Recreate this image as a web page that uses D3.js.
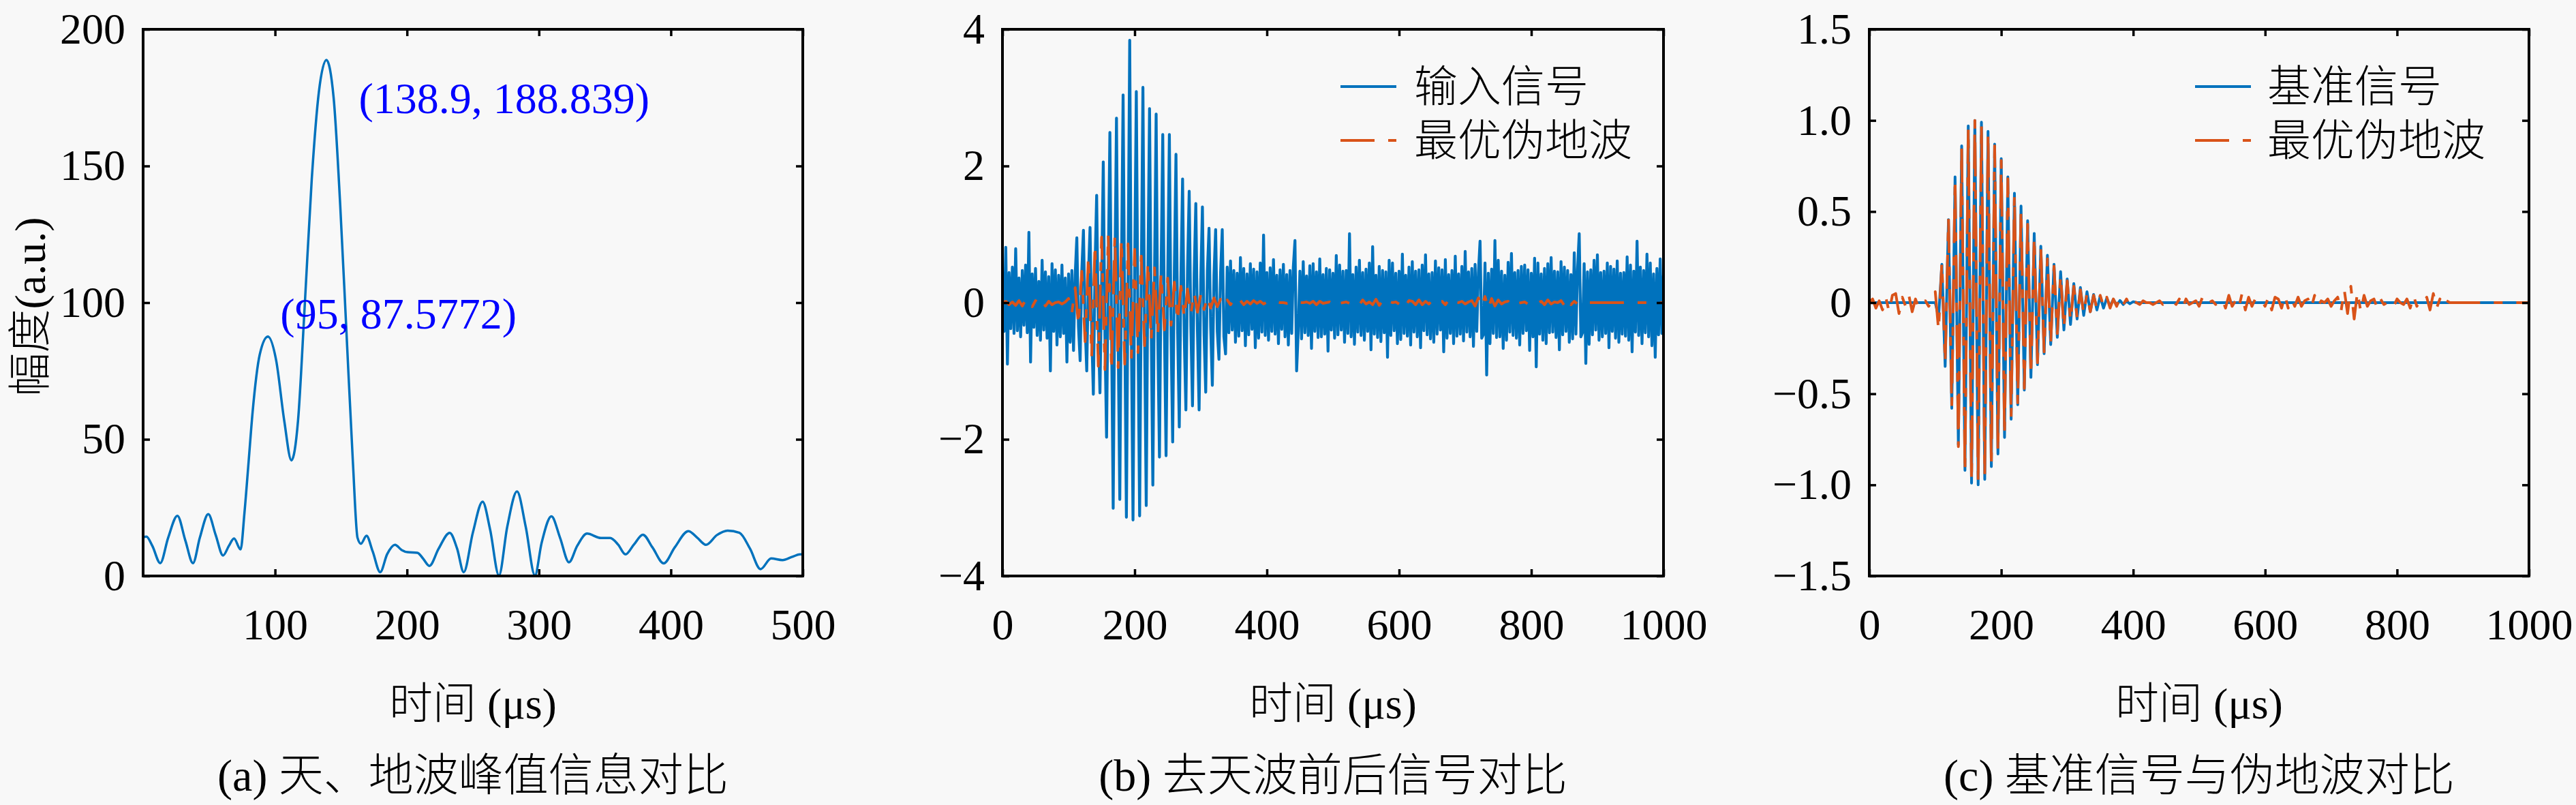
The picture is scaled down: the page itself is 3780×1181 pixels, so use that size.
<!DOCTYPE html>
<html>
<head>
<meta charset="utf-8">
<script src="https://cdn.jsdelivr.net/npm/d3@7"></script>
<style>
  body { margin: 0; background: #f8f8f8; }
  svg text { font-family: "Liberation Serif", "Noto Sans CJK SC", serif; fill: #000; }
  .cjk { font-weight: 300; }
</style>
</head>
<body>
<svg id="chart" width="3780" height="1181"></svg>
<script>
// ---- data ----

// (a) peak search curve
const spectrumTime = [0, 2.5, 7, 13, 19, 26, 32, 37.8, 43, 49.4, 55, 60.6, 65, 68.9, 73.9, 76.8, 80, 83, 88.4, 94.6,
  100.8, 107, 112.4, 117.4, 122.4, 127.8, 133.2, 138.9, 144.4, 149.4, 154, 159, 162.5, 165.1, 169.3, 174, 179.7, 185,
  190.9, 196, 200.4, 207.9, 212, 217, 224, 232.4, 238, 243, 250, 257.3, 263, 269.7, 276, 283.4, 290, 297, 302, 309.5,
  316, 322.8, 329, 336.5, 347, 354, 360, 365.6, 372, 378.8, 386, 394.6, 403, 413.3, 420, 426.6, 435, 443, 452, 460,
  468, 476, 484.6, 492, 497.9, 500];
const spectrumAmp = [14.1, 14.4, 11, 4.7, 14, 22, 13, 4.7, 14, 22.6, 15, 7.5, 11, 13.7, 9.7, 23, 42, 60, 81, 87.6,
  79, 56.7, 42.3, 56.7, 98, 145, 177, 188.8, 175, 135.6, 90.5, 41.7, 14, 11.8, 14.7, 9, 1.4, 8,
  11.4, 9.5, 8.7, 8.5, 6.5, 3.7, 10, 15.8, 10, 1.4, 16, 27.2, 17, 0.2, 18, 30.9, 18, 0.2, 12, 21.8,
  14, 5.0, 11, 15.5, 13.9, 13.9, 11.5, 7.9, 11.5, 15.1, 10.5, 4.6, 10.5, 16.4, 14, 11.4, 15, 16.6, 15.8, 10,
  2.5, 6.4, 5.8, 7, 7.9, 7.9];
const peakLabels = ["(138.9, 188.839)", "(95, 87.5772)"];

// (b) input signal, one sample every 2.5 us from 0 to 1000 us
const inputDt = 2.5;
const inputSignal = [
  0.35, -0.42, 0.81, -0.9,   0.44, -0.38, 0.52, -0.45,  0.79, -0.41, 0.36, -0.5,   0.47, -0.33, 0.55, -0.44,
  1.03, -0.87, 0.42, -0.36,  0.5, -0.48, 0.31, -0.55,   0.62, -0.4, 0.45, -0.52,   0.38, -1.0, 0.57, -0.42,
  0.48, -0.62, 0.4, -0.5,    0.55, -0.45, 0.36, -0.87,  0.42, -0.58, 0.47, -0.7,
  // 110 .. 330 us: sky wave burst
  0.4, 0.95, -0.35, -0.85,   0.45, 1.06, -0.3, -1.0,    0.38, 1.1, -0.42, -1.34,   0.5, 1.57, -0.36, -1.32,
  0.31, 2.06, -0.48, -1.97,  0.44, 2.49, -0.4, -3.01,   0.36, 2.7, -0.5, -2.88,    0.47, 3.04, -0.33, -3.14,
  0.4, 3.84, -0.45, -3.18,   0.52, 3.09, -0.38, -3.12,  0.35, 3.15, -0.46, -2.97,  0.43, 2.84, -0.31, -2.67,
  0.39, 2.76, -0.5, -2.26,   0.48, 2.46, -0.37, -2.24,  0.34, 2.46, -0.44, -2.04,  0.45, 2.17, -0.4, -1.82,
  0.37, 1.81, -0.49, -1.57,  0.5, 1.63, -0.35, -1.51,   0.41, 1.45, -0.43, -1.57,  0.33, 1.4, -0.47, -1.31,
  0.46, 1.09, -0.36, -1.21,  0.4, 1.07, -0.42, -0.83,   0.44, 1.07, -0.5, -0.75,
  // 340 .. 1000 us
  0.52, -0.44, 0.61, -0.4,   0.47, -0.58, 0.43, -0.49,  0.66, -0.41, 0.5, -0.63,   0.42, -0.47, 0.57, -0.39,
  0.49, -0.66, 0.45, -0.52,  0.58, -0.43, 0.99, -0.48,  0.44, -0.55, 0.51, -0.42,  0.63, -0.46, 0.4, -0.6,
  0.48, -0.39, 0.56, -0.5,   0.41, -0.62, 0.47, -0.45,  0.52, 0.91, -1.0, -0.41,   0.46, -0.53, 0.6, -0.44,
  0.39, -0.48, 0.54, -0.67,  0.57, -0.42, 0.45, -0.51,  0.64, -0.5, 0.41, -0.46,   0.5, -0.71, 0.48, -0.4,
  0.43, -0.52, 0.69, -0.47,  0.55, -0.4, 0.46, -0.58,   0.47, -0.45, 1.01, -0.5,   0.41, -0.61, 0.52, -0.43,
  0.62, -0.48, 0.44, -0.55,  0.49, -0.42, 0.58, -0.69,  0.82, -0.46, 0.4, -0.51,   0.53, -0.57, 0.47, -0.44,
  0.45, -0.8, 0.62, -0.48,   0.58, -0.41, 0.43, -0.6,   0.46, -0.54, 0.71, -0.45,  0.4, -0.49, 0.52, -0.62,
  0.6, -0.43, 0.46, -0.5,    0.48, -0.66, 0.55, -0.41,  0.7, -0.47, 0.42, -0.53,   0.44, -0.58, 0.61, -0.46,
  0.51, -0.4, 0.48, -0.72,   0.63, -0.52, 0.41, -0.45,  0.47, -0.6, 0.68, -0.49,   0.42, -0.46, 0.53, -0.56,
  0.75, -0.43, 0.45, -0.5,   0.5, -0.64, 0.56, -0.42,   0.44, 0.9, -0.52, -0.47,   0.58, -1.06, 0.43, -0.6,
  0.49, -0.45, 0.91, -0.51,  0.62, -0.5, 0.46, -0.67,   0.4, -0.55, 0.59, -0.43,   0.72, -0.48, 0.44, -0.52,
  0.47, -0.62, 0.53, -0.45,  0.55, -0.41, 0.48, -0.7,   0.43, -0.5, 0.65, -0.94,   0.58, -0.46, 0.42, -0.55,
  0.5, -0.6, 0.57, -0.44,    0.66, -0.43, 0.46, -0.51,  0.45, -0.69, 0.6, -0.47,   0.52, -0.42, 0.47, -0.58,
  0.41, -0.53, 0.73, -0.46,  0.49, 1.01, -0.5, -0.44,   0.57, -0.89, 0.45, -0.61,  0.48, -0.47, 0.62, -0.4,
  0.7, -0.55, 0.44, -0.5,    0.46, -0.45, 0.58, -0.66,  0.53, -0.42, 0.49, -0.52,  0.61, -0.58, 0.43, -0.46,
  0.44, -0.49, 0.67, -0.55,  0.55, -0.72, 0.46, -0.43,  0.9, -0.48, 0.52, -0.6,    0.47, -0.44, 0.71, -0.5,
  0.58, -0.63, 0.42, -0.8,   0.5, -0.47, 0.64, -0.45,
  0.4
];

// (b)/(c) best pseudo ground wave and (c) reference, one sample every 5 us
const waveDt = 5;
const pseudoGround = [
  0, 0.02, -0.03, 0.01, -0.04, 0.03, -0.05, 0.04, 0.05, -0.06,
  0.03, -0.02, 0.04, -0.05, 0.02, -0.03, 0, 0.01, -0.02, 0.01,
  0.06, -0.15, 0.22, -0.33, 0.46, -0.57, 0.68, -0.79, 0.85, -0.93,
  0.96, -0.98, 1.0, -0.99, 0.98, -0.95, 0.93, -0.9, 0.86, -0.82,
  0.78, -0.73, 0.68, -0.63, 0.59, -0.55, 0.51, -0.47, 0.43, -0.4,
  0.36, -0.33, 0.3, -0.27, 0.24, -0.22, 0.2, -0.17, 0.15, -0.14,
  0.12, -0.1, 0.09, -0.08, 0.07, -0.06, 0.05, -0.05, 0.04, -0.03,
  0.04, -0.02, 0.03, -0.03, 0.02, -0.02, 0.03, -0.01, 0.02, -0.02,
  0.01, 0, -0.01, 0.01, 0, 0, -0.01, 0, 0.01, -0.01,
  0, 0, 0.01, -0.01, 0.02, -0.03, 0.02, -0.01, 0, 0.01,
  -0.02, 0.03, -0.01, 0, 0.01, -0.01, 0, 0.02, -0.03, 0.04,
  -0.02, 0.01, -0.03, 0.05, -0.04, 0.03, -0.02, 0.02, 0, 0.01,
  -0.02, 0.03, -0.04, 0.03, 0.02, -0.03, 0.04, -0.03, 0.02, -0.02,
  0.03, -0.02, 0.01, 0.02, -0.03, 0.04, -0.02, 0.01, 0, 0.02,
  -0.02, 0.01, 0.03, -0.05, 0.07, -0.06, 0.09, -0.09, 0.06, -0.05,
  0.04, -0.02, 0.01, 0.02, -0.03, 0.02, -0.01, 0, 0.01, -0.02,
  0.02, 0, -0.01, 0.02, -0.03, 0.04, -0.02, 0.01, 0, 0.03,
  -0.04, 0.05, -0.03, 0.02, -0.02, 0.01, 0, 0, 0, 0,
  0, 0, 0, 0, 0, 0, 0, 0, 0, 0,
  0, 0, 0, 0, 0, 0, 0, 0, 0, 0,
  0
];
const referenceSignal = [
  0, 0, 0, 0, 0, 0, 0, 0, 0, 0,
  0, 0, 0, 0, 0, 0, 0, 0, 0, 0,
  0, -0.08, 0.21, -0.35, 0.455, -0.58, 0.69, -0.78, 0.86, -0.92,
  0.97, -0.99, 1.0, -1.0, 0.99, -0.97, 0.94, -0.9, 0.87, -0.83,
  0.79, -0.74, 0.69, -0.64, 0.6, -0.56, 0.53, -0.48, 0.45, -0.41,
  0.38, -0.34, 0.31, -0.28, 0.26, -0.23, 0.21, -0.19, 0.17, -0.15,
  0.13, -0.12, 0.105, -0.09, 0.083, -0.07, 0.06, -0.05, 0.045, -0.04,
  0.035, -0.03, 0.025, -0.02, 0.018, -0.015, 0.012, -0.01, 0.008, -0.006,
  0.005, 0, 0, 0, 0, 0, 0, 0, 0, 0,
  0, 0, 0, 0, 0, 0, 0, 0, 0, 0,
  0, 0, 0, 0, 0, 0, 0, 0, 0, 0,
  0, 0, 0, 0, 0, 0, 0, 0, 0, 0,
  0, 0, 0, 0, 0, 0, 0, 0, 0, 0,
  0, 0, 0, 0, 0, 0, 0, 0, 0, 0,
  0, 0, 0, 0, 0, 0, 0, 0, 0, 0,
  0, 0, 0, 0, 0, 0, 0, 0, 0, 0,
  0, 0, 0, 0, 0, 0, 0, 0, 0, 0,
  0, 0, 0, 0, 0, 0, 0, 0, 0, 0,
  0, 0, 0, 0, 0, 0, 0, 0, 0, 0,
  0, 0, 0, 0, 0, 0, 0, 0, 0, 0,
  0
];

// ticks and texts
const xTicksA = [100, 200, 300, 400, 500];
const yTicksA = [0, 50, 100, 150, 200];
const xTicksBC = [0, 200, 400, 600, 800, 1000];
const yTicksB = [-4, -2, 0, 2, 4];
const yTicksC = [-1.5, -1, -0.5, 0, 0.5, 1, 1.5];
const captions = ["(a) 天、地波峰值信息对比", "(b) 去天波前后信号对比", "(c) 基准信号与伪地波对比"];
const legendB = ["输入信号", "最优伪地波"];
const legendC = ["基准信号", "最优伪地波"];
const xLabel = "时间 (μs)";
const yLabelA = "幅度(a.u.)";

// ---- drawing ----
const BLUE = "#0072BD", RED = "#D95319", ANNOT = "#0000FF";
const DASHDOT = "50,20,13,20";
const plotTop = 43, plotBottom = 845;
const svg = d3.select("#chart");
svg.append("rect").attr("width", 3780).attr("height", 1181).attr("fill", "#f8f8f8");

const minus = v => (v < 0 ? "\u2212" : "") + Math.abs(v);
const toPoints = (vals, dt) => vals.map((v, i) => [i * dt, v]);

const panels = [
  {
    left: 210, right: 1178, xDomain: [0, 500], yDomain: [0, 200],
    xTicks: xTicksA, yTicks: yTicksA, yFormat: d => d,
    series: [{ pts: spectrumTime.map((t, i) => [t, spectrumAmp[i]]), color: BLUE, width: 3.5, curve: d3.curveMonotoneX }],
    caption: captions[0]
  },
  {
    left: 1471, right: 2441, xDomain: [0, 1000], yDomain: [-4, 4],
    xTicks: xTicksBC, yTicks: yTicksB, yFormat: minus,
    series: [
      { pts: toPoints(inputSignal, inputDt), color: BLUE, width: 4.2 },
      { pts: toPoints(pseudoGround, waveDt), color: RED, width: 4, dash: DASHDOT }
    ],
    legend: legendB, legendLine: 1967, legendText: 2075,
    caption: captions[1]
  },
  {
    left: 2743, right: 3711, xDomain: [0, 1000], yDomain: [-1.5, 1.5],
    xTicks: xTicksBC, yTicks: yTicksC, yFormat: d => d === 0 ? "0" : (d < 0 ? "\u2212" : "") + Math.abs(d).toFixed(1),
    series: [
      { pts: toPoints(referenceSignal, waveDt), color: BLUE, width: 4 },
      { pts: toPoints(pseudoGround, waveDt), color: RED, width: 4, dash: DASHDOT }
    ],
    legend: legendC, legendLine: 3221, legendText: 3327,
    caption: captions[2]
  }
];

panels.forEach((p, pi) => {
  const x = d3.scaleLinear().domain(p.xDomain).range([p.left, p.right]);
  const y = d3.scaleLinear().domain(p.yDomain).range([plotBottom, plotTop]);
  const g = svg.append("g");

  // clip region for the traces
  const clipId = "clip" + pi;
  svg.append("clipPath").attr("id", clipId).append("rect")
    .attr("x", p.left).attr("y", plotTop)
    .attr("width", p.right - p.left).attr("height", plotBottom - plotTop);

  const traces = g.append("g").attr("clip-path", "url(#" + clipId + ")");
  p.series.forEach(s => {
    const line = d3.line().x(d => x(d[0])).y(d => y(d[1]));
    if (s.curve) line.curve(s.curve);
    traces.append("path")
      .datum(s.pts)
      .attr("d", line)
      .attr("fill", "none")
      .attr("stroke", s.color)
      .attr("stroke-width", s.width)
      .attr("stroke-linejoin", "round")
      .attr("stroke-dasharray", s.dash || null);
  });

  // axes, ticks pointing inward on all four sides
  const axisStyle = sel => {
    sel.select(".domain").remove();
    sel.selectAll(".tick line").attr("stroke", "#000").attr("stroke-width", 3.5);
    sel.selectAll(".tick text").attr("font-size", 64).attr("fill", "#000");
  };
  g.append("g").attr("transform", `translate(0,${plotBottom})`)
    .call(d3.axisBottom(x).tickValues(p.xTicks).tickSize(-10).tickPadding(48).tickFormat(d => d))
    .call(axisStyle);
  g.append("g").attr("transform", `translate(0,${plotTop})`)
    .call(d3.axisTop(x).tickValues(p.xTicks).tickSize(-10).tickFormat(""))
    .call(axisStyle);
  g.append("g").attr("transform", `translate(${p.left},0)`)
    .call(d3.axisLeft(y).tickValues(p.yTicks).tickSize(-10).tickPadding(26).tickFormat(p.yFormat))
    .call(axisStyle);
  g.append("g").attr("transform", `translate(${p.right},0)`)
    .call(d3.axisRight(y).tickValues(p.yTicks).tickSize(-10).tickFormat(""))
    .call(axisStyle);
  g.selectAll("text").attr("font-family", null);

  g.append("rect")
    .attr("x", p.left).attr("y", plotTop)
    .attr("width", p.right - p.left).attr("height", plotBottom - plotTop)
    .attr("fill", "none").attr("stroke", "#000").attr("stroke-width", 4);

  // legend
  if (p.legend) {
    const rows = [127, 206];
    p.series.forEach((s, i) => {
      g.append("line")
        .attr("x1", p.legendLine).attr("x2", p.legendLine + 82)
        .attr("y1", rows[i]).attr("y2", rows[i])
        .attr("stroke", s.color).attr("stroke-width", 4)
        .attr("stroke-dasharray", s.dash || null);
      g.append("text").attr("class", "cjk")
        .attr("x", p.legendText).attr("y", rows[i])
        .attr("dominant-baseline", "central")
        .attr("font-size", 64)
        .text(p.legend[i]);
    });
  }

  // axis label and caption
  const cx = (p.left + p.right) / 2;
  g.append("text").attr("class", "cjk")
    .attr("x", cx).attr("y", 1032)
    .attr("text-anchor", "middle").attr("dominant-baseline", "central")
    .attr("font-size", 64)
    .text(xLabel);
  g.append("text").attr("class", "cjk")
    .attr("x", cx).attr("y", 1137)
    .attr("text-anchor", "middle").attr("dominant-baseline", "central")
    .attr("font-size", 66)
    .text(p.caption);

  if (pi === 0) {
    g.append("text").attr("class", "cjk")
      .attr("transform", `translate(44,450) rotate(-90)`)
      .attr("text-anchor", "middle").attr("dominant-baseline", "central")
      .attr("font-size", 64)
      .text(yLabelA);
    // peak annotations, placed to the right of each peak
    const labelAt = [[163.5, 174], [104, 95.3]];
    peakLabels.forEach((txt, i) => {
      g.append("text")
        .attr("x", x(labelAt[i][0])).attr("y", y(labelAt[i][1]))
        .attr("dy", "0.3em")
        .attr("font-size", 64)
        .style("fill", ANNOT)
        .text(txt);
    });
  }
});
</script>
</body>
</html>
